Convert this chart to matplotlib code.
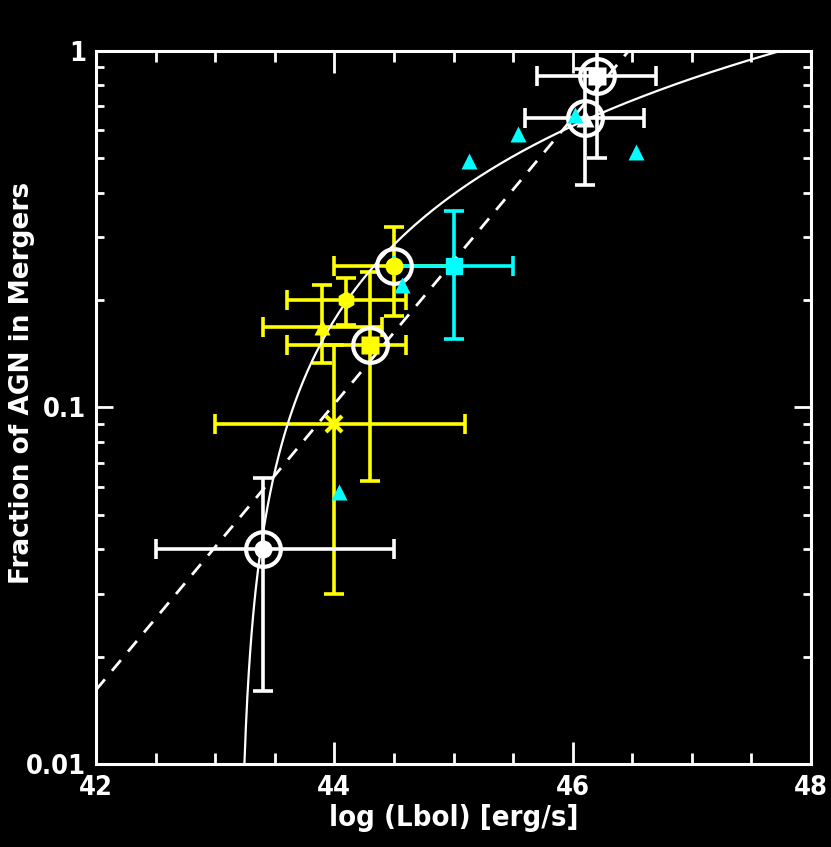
import numpy as np
import matplotlib
matplotlib.use('Agg')
import matplotlib.pyplot as plt
from matplotlib import font_manager
from matplotlib.ticker import FixedLocator, MultipleLocator, LogLocator, NullFormatter

# white points (circled)
w_x = [46.2, 46.1, 43.4]
w_y = [0.85, 0.65, 0.04]
w_xlo = [45.7, 45.6, 42.5]
w_xhi = [46.7, 46.6, 44.5]
w_ylo = [0.50, 0.42, 0.016]
w_yhi = [1.2, 0.89, 0.0635]
w_mk = ['s', '^', 'o']

# yellow points
y_x = [44.5, 44.1, 43.9, 44.3, 44.0]
y_y = [0.25, 0.20, 0.168, 0.15, 0.09]
y_xlo = [44.0, 43.6, 43.4, 43.6, 43.0]
y_xhi = [45.0, 44.6, 44.4, 44.6, 45.1]
y_ylo = [0.18, 0.17, 0.133, 0.062, 0.030]
y_yhi = [0.32, 0.23, 0.22, 0.24, 0.15]
y_mk = ['o', 'h', '^', 's', 'x']

# cyan point with error bars
c_x = [45.0]
c_y = [0.25]
c_xlo = [44.5]
c_xhi = [45.5]
c_ylo = [0.156]
c_yhi = [0.355]

# cyan triangles
t_x = [44.57, 44.04, 45.13, 45.54, 46.02, 46.53]
t_y = [0.22, 0.058, 0.49, 0.586, 0.66, 0.52]

# circled points
ring_x = [46.2, 46.1, 44.5, 44.3, 43.4]
ring_y = [0.85, 0.65, 0.25, 0.15, 0.04]

# fits: solid f = a*(L - L0), dashed log f = s*(L - L1)
lin_a, lin_L0 = 0.22, 43.2
pow_s, pow_L1 = 0.401, 46.47

# condensed bold if we have it
names = {f.name for f in font_manager.fontManager.ttflist}
if 'Liberation Sans Narrow' in names:
    tickfp = font_manager.FontProperties(family='Liberation Sans Narrow', weight='bold', size=21)
    labfp = font_manager.FontProperties(family='Liberation Sans Narrow', weight='bold', size=22)
else:
    tickfp = font_manager.FontProperties(family='DejaVu Sans', stretch='condensed', weight='bold', size=19.5)
    labfp = font_manager.FontProperties(family='DejaVu Sans', stretch='condensed', weight='bold', size=21)

fig = plt.figure(figsize=(8.31, 8.47), dpi=100, facecolor='black')
ax = fig.add_axes([0.1155, 0.098, 0.8605, 0.842])
ax.set_facecolor('black')


def draw_err(xs, ys, xlo, xhi, ylo, yhi, col, z):
    xs = np.array(xs); ys = np.array(ys)
    xerr = [xs - np.array(xlo), np.array(xhi) - xs]
    yerr = [ys - np.array(ylo), np.array(yhi) - ys]
    ax.errorbar(xs, ys, xerr=xerr, yerr=yerr, fmt='none', ecolor=col,
                elinewidth=2.6, capsize=7.5, capthick=2.6, zorder=z)


draw_err(y_x, y_y, y_xlo, y_xhi, y_ylo, y_yhi, 'yellow', 2)
draw_err(c_x, c_y, c_xlo, c_xhi, c_ylo, c_yhi, 'cyan', 3)
draw_err(w_x, w_y, w_xlo, w_xhi, w_ylo, w_yhi, 'white', 3)

# fit lines
L = np.linspace(lin_L0 + 0.01, 48, 400)
ax.plot(L, lin_a * (L - lin_L0), color='white', lw=1.6, zorder=4)
Ld = np.array([42, 48])
ax.plot(Ld, 10 ** (pow_s * (Ld - pow_L1)), color='white', lw=2.0,
        dashes=(5, 4), zorder=4)

for x, y, m in zip(y_x, y_y, y_mk):
    if m == 'x':
        ax.plot(x, y, marker='x', color='yellow', ms=11, mew=3, zorder=5)
        ax.plot(x, y, marker='+', color='yellow', ms=8, mew=2, zorder=5)
    else:
        ax.plot(x, y, marker=m, color='yellow', ms=13 if m != '^' else 11,
                mec='none', zorder=5)
ax.plot(c_x, c_y, marker='s', color='cyan', ms=12, ls='none', zorder=5)
for x, y, m in zip(w_x, w_y, w_mk):
    ax.plot(x, y, marker=m, color='white', ms=13, mec='none', zorder=5)

ax.plot(ring_x, ring_y, 'o', ms=25, mfc='none', mec='white', mew=3,
        zorder=6)
ax.plot(t_x, t_y, '^', color='cyan', ms=11, mec='none', ls='none', zorder=7)

ax.set_xlim(42, 48)
ax.set_ylim(0.01, 1)
ax.set_yscale('log')

ax.xaxis.set_major_locator(FixedLocator([42, 44, 46, 48]))
ax.xaxis.set_minor_locator(MultipleLocator(0.5))
ax.yaxis.set_major_locator(FixedLocator([0.01, 0.1, 1]))
ax.yaxis.set_minor_locator(LogLocator(base=10, subs=np.arange(2, 10)))
ax.yaxis.set_minor_formatter(NullFormatter())
ax.set_yticklabels(['0.01', '0.1', '1'])
ax.set_xticklabels(['42', '44', '46', '48'])

for s in ax.spines.values():
    s.set_color('white')
    s.set_linewidth(2.2)

ax.tick_params(axis='x', which='major', direction='in', length=16, width=2,
               top=True, bottom=True, colors='white', pad=8)
ax.tick_params(axis='x', which='minor', direction='in', length=8, width=2,
               top=True, bottom=True, colors='white')
ax.tick_params(axis='y', which='major', direction='in', length=12, width=2,
               left=True, right=True, colors='white', pad=7)
ax.tick_params(axis='y', which='minor', direction='in', length=6, width=2,
               left=True, right=True, colors='white')
for lab in ax.get_xticklabels() + ax.get_yticklabels():
    lab.set_fontproperties(tickfp)
    lab.set_color('white')

ax.set_xlabel('log (Lbol) [erg/s]', color='white', fontproperties=labfp,
              labelpad=2)
ax.set_ylabel('Fraction of AGN in Mergers', color='white', family='DejaVu Sans',
              weight='bold', size=19)
ax.yaxis.set_label_coords(-0.085, 0.535)

fig.savefig('out.png', dpi=100, facecolor='black')
